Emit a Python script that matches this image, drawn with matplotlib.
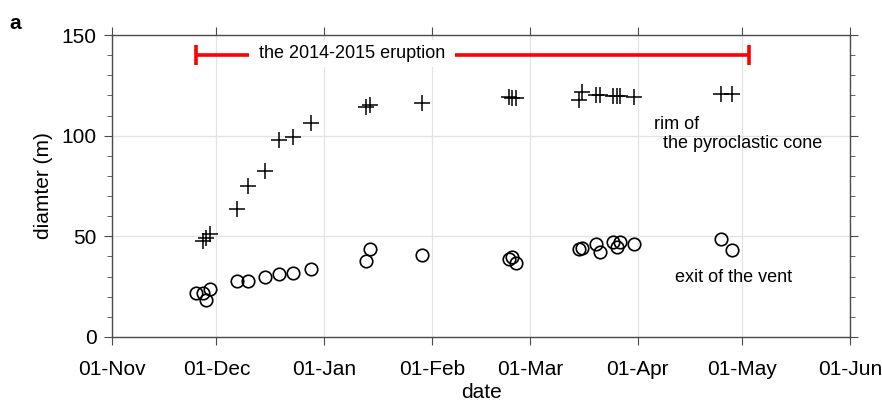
import numpy as np
import pandas as pd
import matplotlib
matplotlib.use("Agg")
import matplotlib.pyplot as plt
import matplotlib.dates as mdates
from matplotlib.ticker import MultipleLocator

plt.rcParams['font.family'] = ['Liberation Sans', 'DejaVu Sans']

# rim of the pyroclastic cone
rim_dates = ['2014-11-27', '2014-11-28', '2014-11-29', '2014-12-07', '2014-12-10',
             '2014-12-15', '2014-12-19', '2014-12-23', '2014-12-28', '2015-01-13',
             '2015-01-14', '2015-01-29', '2015-02-23', '2015-02-24', '2015-02-25',
             '2015-03-15', '2015-03-16', '2015-03-20', '2015-03-21', '2015-03-25',
             '2015-03-26', '2015-03-27', '2015-03-31', '2015-04-25', '2015-04-28']
rim_diam = [47.7, 49.2, 51.2, 63.6, 75.0,
            82.5, 97.9, 99.5, 106.1, 114.1,
            115.3, 116.1, 119.4, 118.6, 118.9,
            117.7, 121.9, 120.2, 120.2, 119.7,
            119.7, 119.7, 119.4, 120.7, 120.7]

# exit of the vent
vent_dates = ['2014-11-25', '2014-11-27', '2014-11-28', '2014-11-29', '2014-12-07',
              '2014-12-10', '2014-12-15', '2014-12-19', '2014-12-23', '2014-12-28',
              '2015-01-13', '2015-01-14', '2015-01-29', '2015-02-23', '2015-02-24',
              '2015-02-25', '2015-03-15', '2015-03-16', '2015-03-20', '2015-03-21',
              '2015-03-25', '2015-03-26', '2015-03-27', '2015-03-31', '2015-04-25',
              '2015-04-28']
vent_diam = [22.0, 21.7, 18.4, 23.7, 28.0,
             28.0, 29.8, 31.1, 31.9, 33.8,
             37.8, 43.9, 40.7, 38.6, 39.9,
             36.6, 43.5, 44.0, 46.0, 42.4,
             47.4, 44.6, 47.4, 46.2, 48.5,
             43.2]

eruption = ['2014-11-25', '2015-05-03']
eruption_level = 140
month_ticks = ['2014-11-01', '2014-12-01', '2015-01-01', '2015-02-01',
               '2015-03-01', '2015-04-01', '2015-05-01', '2015-06-01']

rim_dates = pd.to_datetime(rim_dates)
vent_dates = pd.to_datetime(vent_dates)
eruption = pd.to_datetime(eruption)
month_ticks = pd.to_datetime(month_ticks)

fig = plt.figure(figsize=(8.82, 4.03), dpi=100)
ax = fig.add_axes([0.127, 0.164, 0.837, 0.749])

ax.plot(rim_dates, rim_diam, linestyle='none', marker='+', color='k',
        markersize=11, markeredgewidth=1.1)
ax.plot(vent_dates, vent_diam, linestyle='none', marker='o', color='k',
        markerfacecolor='none', markersize=9, markeredgewidth=1.2)

# eruption period bar, label sits in a white gap on the line
ax.plot(eruption, [eruption_level] * 2, color='red', lw=2.6, solid_capstyle='butt')
ax.plot(eruption, [eruption_level] * 2, linestyle='none', marker='|', color='red',
        markersize=14, markeredgewidth=2.6)
ax.text(pd.Timestamp('2015-01-09'), eruption_level + 1, ' the 2014-2015 eruption ',
        ha='center', va='center', fontsize=13,
        bbox=dict(facecolor='white', edgecolor='none', pad=3.5))

ax.text(pd.Timestamp('2015-04-05 12:00'), 105.5, 'rim of', fontsize=13, va='center')
ax.text(pd.Timestamp('2015-04-08 08:00'), 95.9, 'the pyroclastic cone', fontsize=13, va='center')
ax.text(pd.Timestamp('2015-04-11 18:00'), 29.3, 'exit of the vent', fontsize=13, va='center')

ax.set_xlim(month_ticks[0], month_ticks[-1])
ax.set_ylim(0, 150)
ax.set_xticks(month_ticks)
ax.xaxis.set_major_formatter(mdates.DateFormatter('%d-%b'))
ax.yaxis.set_major_locator(MultipleLocator(50))
ax.yaxis.set_minor_locator(MultipleLocator(10))

ax.grid(True, which='major', color='#e3e3e3', lw=0.9)
ax.set_axisbelow(True)
for s in ax.spines.values():
    s.set_color('#4a4a4a')
    s.set_linewidth(1.0)
ax.tick_params(which='both', direction='out', top=True, right=True,
               colors='#4a4a4a', labelcolor='k', labelsize=15)
ax.tick_params(which='major', length=6, pad=5)
ax.tick_params(axis='x', which='major', pad=10.5)
ax.tick_params(which='minor', length=3.6)

ax.set_xlabel('date', fontsize=15, labelpad=3)
ax.set_ylabel('diamter (m)', fontsize=15, labelpad=6)
fig.text(0.011, 0.927, 'a', fontsize=15, fontweight='bold')

fig.savefig('out.png', dpi=100)
